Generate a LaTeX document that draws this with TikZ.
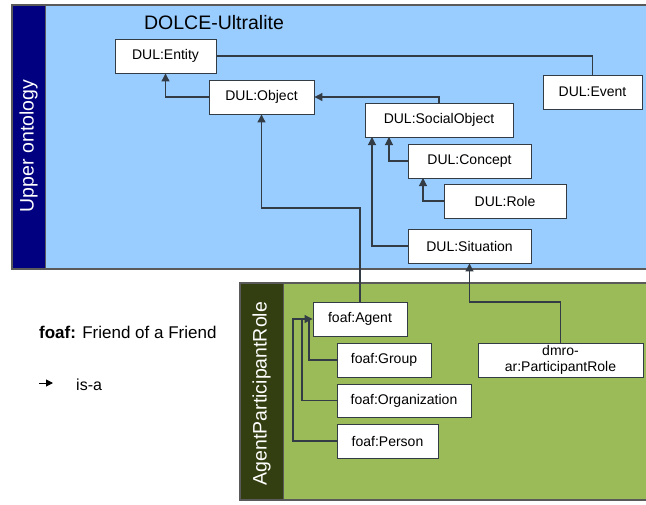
\documentclass[tikz,border=0pt]{standalone}
\usepackage{fontspec}
\setmainfont{Liberation Sans}
\usetikzlibrary{arrows.meta}
\definecolor{lblue}{HTML}{99CCFF}
\definecolor{navy}{HTML}{000080}
\definecolor{lgreen}{HTML}{9BBB59}
\definecolor{dgreen}{HTML}{333F10}
\definecolor{edge}{HTML}{333B45}
\definecolor{frame}{HTML}{5A5A5A}
\tikzset{
  cls/.style={draw=edge, fill=white, line width=0.9pt, inner sep=1pt, align=center,
    font=\fontsize{14}{16}\selectfont},
  isa/.style={draw=edge, line width=1.1pt, -{Triangle[length=8pt,width=8pt]}},
  link/.style={draw=edge, line width=1.1pt},
  vlabel/.style={rotate=90, text=white, font=\fontsize{19.5}{22}\selectfont}
}
\begin{document}
\begin{tikzpicture}[x=1pt,y=-1pt]
\useasboundingbox (0,0) rectangle (646,504);
% upper region
\fill[lblue] (12,5) rectangle (646,269);
\fill[navy] (12,5) rectangle (45,269);
\draw[frame, line width=1.5pt] (646,5) -- (12,5) -- (12,269) -- (646,269);
\draw[frame, line width=1pt] (45,5) -- (45,269);
\node[vlabel] (upper) at (28.5,146) {Upper ontology};
\node[font=\fontsize{19.5}{22}\selectfont] (title) at (214,23) {DOLCE-Ultralite};
% lower region
\fill[lgreen] (240,283) rectangle (646,500);
\fill[dgreen] (240,283) rectangle (283,500);
\draw[frame, line width=1.5pt] (646,283) -- (240,283) -- (240,500) -- (646,500);
\draw[frame, line width=1pt] (283,283) -- (283,500);
\node[vlabel] (apr) at (261.5,393.5) {AgentParticipantRole};

% nodes upper
\node[cls, minimum width=101pt, minimum height=34pt] (entity) at (165.5,56) {DUL:Entity};
\node[cls, minimum width=105pt, minimum height=34pt] (object) at (261.5,97) {DUL:Object};
\node[cls, minimum width=99pt, minimum height=34pt] (event) at (592.5,92) {DUL:Event};
\node[cls, minimum width=148pt, minimum height=34pt] (social) at (439,120) {DUL:SocialObject};
\node[cls, minimum width=123pt, minimum height=34pt] (concept) at (469.5,161) {DUL:Concept};
\node[cls, minimum width=122pt, minimum height=34pt] (role) at (505,201) {DUL:Role};
\node[cls, minimum width=123pt, minimum height=34pt] (situation) at (469.5,246) {DUL:Situation};
% nodes lower
\node[cls, minimum width=94pt, minimum height=34pt] (agent) at (360,319) {foaf:Agent};
\node[cls, minimum width=94pt, minimum height=34pt] (group) at (384,360) {foaf:Group};
\node[cls, minimum width=134pt, minimum height=33pt] (org) at (404,400.5) {foaf:Organization};
\node[cls, minimum width=101pt, minimum height=34pt] (person) at (387.5,441) {foaf:Person};
\node[cls, minimum width=165pt, minimum height=34pt] (prole) at (560.5,360) {dmro-\\ar:ParticipantRole};

% helper coordinates
\coordinate (ao) at (262,208);
\coordinate (ps) at (469.5,302);
\coordinate (cs) at (389,137);
\coordinate (ss) at (372,137);
\coordinate (rc) at (423,178);
\coordinate (pa) at (293,319);
\coordinate (oa) at (302,319);
\coordinate (ga) at (309,319);

% connectors upper
\draw[link] (event.north) |- (entity.east);
\draw[isa] (object.west) -| (entity.south);
\draw[isa] (social.north) |- (object.east);
\draw[isa] (concept.west) -| (cs);
\draw[isa] (situation.west) -| (ss);
\draw[isa] (role.west) -| (rc);
\draw[isa] (agent.north) |- (ao) -| (object.south);
\draw[isa] (prole.north) |- (ps) -- (situation.south);
% connectors lower
\draw[isa] (person.west) -| (pa) -- (agent.west);
\draw[link] (org.west) -| (oa);
\draw[link] (group.west) -| (ga);

% legend
\node[anchor=west, inner sep=0pt, font=\fontsize{17}{19}\selectfont] (foaf) at (39,332) {\textbf{foaf:} Friend of a Friend};
\coordinate (la) at (39,383);
\coordinate (lb) at (53,383);
\draw[draw=black, line width=1pt, -{Triangle[length=7pt,width=7pt]}] (la) -- (lb);
\node[anchor=west, inner sep=0pt, font=\fontsize{16}{19}\selectfont] (isa) at (76,385) {is-a};
\end{tikzpicture}
\end{document}
